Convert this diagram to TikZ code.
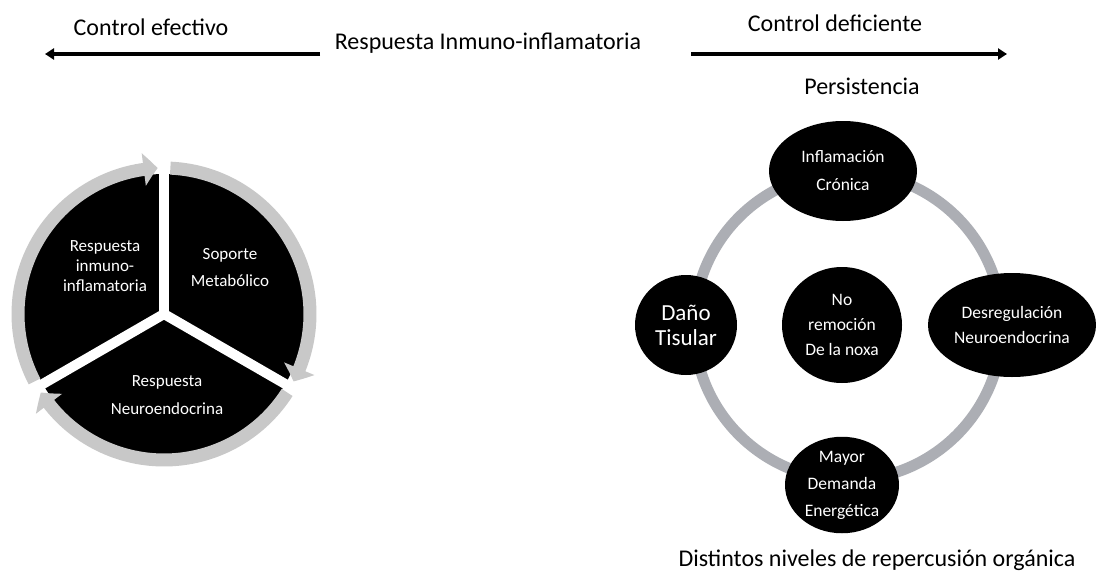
\documentclass[tikz,border=0pt]{standalone}
\usepackage{fontspec}
\setmainfont{Carlito}
\usetikzlibrary{shapes.geometric,arrows.meta,bending}
\definecolor{ringL}{RGB}{200,200,200}
\definecolor{ringR}{RGB}{172,174,180}
\begin{document}
\begin{tikzpicture}[x=1pt,y=1pt,
  lbl/.style={font=\fontsize{24}{28}\selectfont, inner sep=0},
  blk/.style={ellipse, fill=black, text=white, inner sep=0, align=center},
  pietxt/.style={text=white, align=center, inner sep=0},
  garc/.style={ringL, line width=13pt, -{Triangle[width=32pt,length=14pt,bend]}},
  topar/.style={line width=3.5pt, -{Triangle[width=11pt,length=9pt]}},
  gap/.style={white, line width=10pt}]
\fill[white] (0,0) rectangle (1096,-573);
\useasboundingbox (0,0) rectangle (1096,-573);

% top labels and arrows
\node[lbl] (ce) at (151,-27) {Control efectivo};
\node[lbl] (rii) at (488,-43) {Respuesta Inmuno-inflamatoria};
\node[lbl] (cd) at (835,-23) {Control deficiente};
\node[lbl] (pe) at (862,-86) {Persistencia};
\node[lbl] (dn) at (877,-560) {Distintos niveles de repercusión orgánica};
\coordinate (la1) at (320,-54);
\coordinate (la2) at (45,-54);
\coordinate (ra1) at (691,-54);
\coordinate (ra2) at (1007,-54);
\draw[topar] (la1) -- (la2);
\draw[topar] (ra1) -- (ra2);

% left cycle
\coordinate (C) at (164,-314);
\fill[black] (C) circle[radius=140];
\draw[gap] (C) -- ++(90:165);
\draw[gap] (C) -- ++(-30:165);
\draw[gap] (C) -- ++(210:165);
\draw[garc] ([shift={(207.5:146)}]C) arc[start angle=207.5, end angle=92.5, radius=146];
\draw[garc] ([shift={(87.5:146)}]C) arc[start angle=87.5, end angle=-27.5, radius=146];
\draw[garc] ([shift={(-32.5:146)}]C) arc[start angle=-32.5, end angle=-147.5, radius=146];
\node[pietxt, font=\fontsize{17}{20}\selectfont] (p1) at (105,-266) {Respuesta\\inmuno-\\inflamatoria};
\node[pietxt, font=\fontsize{17}{27}\selectfont] (p2) at (230,-268) {Soporte\\Metabólico};
\node[pietxt, font=\fontsize{17}{28}\selectfont] (p3) at (167,-395) {Respuesta\\Neuroendocrina};

% right cycle
\coordinate (R) at (848,-326);
\draw[ringR, line width=11pt] (R) circle[radius=154];
\node[blk, minimum width=148, minimum height=100, font=\fontsize{17.5}{28}\selectfont] (inf) at (843,-171) {Inflamación\\Crónica};
\node[blk, minimum width=102, minimum height=100, font=\fontsize{23}{25}\selectfont] (dt) at (686,-325) {Daño\\Tisular};
\node[blk, minimum width=168, minimum height=104, font=\fontsize{17.5}{25}\selectfont] (dr) at (1012,-325) {Desregulación\\Neuroendocrina};
\node[blk, minimum width=120, minimum height=116, font=\fontsize{17.5}{25}\selectfont] (nr) at (842,-325) {No\\remoción\\De la noxa};
\node[blk, minimum width=114, minimum height=96, font=\fontsize{17.5}{27}\selectfont] (md) at (842,-485) {Mayor\\Demanda\\Energética};
\end{tikzpicture}
\end{document}
